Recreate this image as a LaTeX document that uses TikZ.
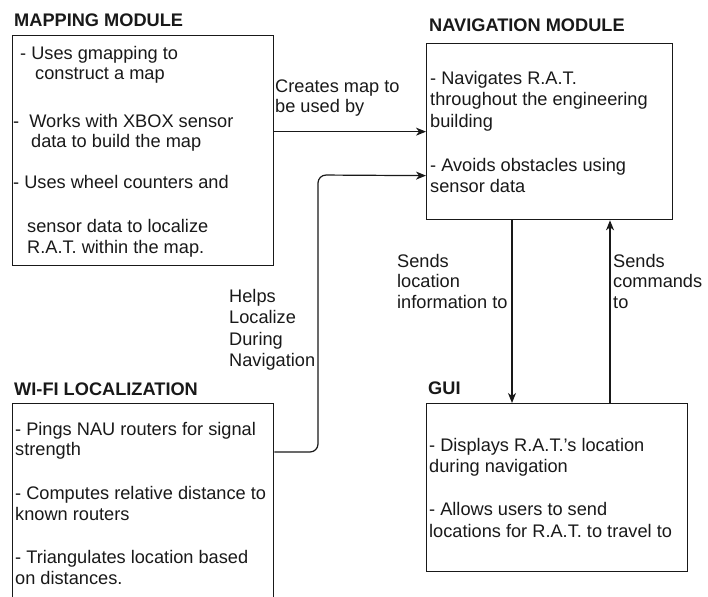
\documentclass[tikz,border=0pt]{standalone}
\usepackage{fontspec}
\setmainfont{Liberation Sans}
\usetikzlibrary{arrows.meta}
\begin{document}
\begin{tikzpicture}[x=1pt,y=-1pt,
  box/.style={draw=black!90, line width=1.3pt, inner sep=0pt, anchor=north west},
  txt/.style={anchor=base west, inner sep=0pt, text=black!90,
    font=\fontsize{18.2}{21}\selectfont},
  ttl/.style={txt, font=\fontsize{18.2}{21}\selectfont\bfseries},
  link/.style={draw=black!90, line width=1.2pt, rounded corners=8pt,
    -{Stealth[length=10pt,width=8pt,inset=3pt]}}]
\clip (0,0) rectangle (708,596);
\fill[white] (0,0) rectangle (708,596);

% module boxes
\node[box, minimum width=261pt, minimum height=230pt] (map) at (12,35) {};
\node[box, minimum width=246pt, minimum height=176pt] (nav) at (426,43) {};
\node[box, minimum width=261pt, minimum height=240pt] (wifi) at (12,403) {};
\node[box, minimum width=261pt, minimum height=168pt] (gui) at (426,403) {};

% titles
\node[ttl] (mapT) at (14,27) {MAPPING MODULE};
\node[ttl] (navT) at (429,32) {NAVIGATION MODULE};
\node[ttl] (wifiT) at (14,395) {WI-FI LOCALIZATION};
\node[ttl] (guiT) at (428,394) {GUI};

% mapping module text
\node[txt] (m1) at (20,60) {- Uses gmapping to};
\node[txt] (m2) at (35,80) {construct a map};
\node[txt] (m3) at (13,128) {-\ \ Works with XBOX sensor};
\node[txt] (m4) at (31,147) {data to build the map};
\node[txt] (m5) at (13,188) {- Uses wheel counters and};
\node[txt] (m6) at (27,232) {sensor data to localize};
\node[txt] (m7) at (27,253) {R.A.T. within the map.};

% navigation module text
\node[txt] (n1) at (430,85) {- Navigates R.A.T.};
\node[txt] (n2) at (430,106) {throughout the engineering};
\node[txt] (n3) at (430,128) {building};
\node[txt] (n4) at (430,171) {- Avoids obstacles using};
\node[txt] (n5) at (430,192) {sensor data};

% wi-fi localization text
\node[txt] (w1) at (15,435) {- Pings NAU routers for signal};
\node[txt] (w2) at (15,455) {strength};
\node[txt] (w3) at (15,499) {- Computes relative distance to};
\node[txt] (w4) at (15,520) {known routers};
\node[txt] (w5) at (15,563) {- Triangulates location based};
\node[txt] (w6) at (15,584) {on distances.};

% gui text
\node[txt] (g1) at (429,451) {- Displays R.A.T.'s location};
\node[txt] (g2) at (429,472) {during navigation};
\node[txt] (g3) at (429,515) {- Allows users to send};
\node[txt] (g4) at (429,537) {locations for R.A.T. to travel to};

% connector labels
\node[txt] (l1) at (275,93) {Creates map to};
\node[txt] (l2) at (275,113) {be used by};
\node[txt] (h1) at (229,302) {Helps};
\node[txt] (h2) at (229,323) {Localize};
\node[txt] (h3) at (229,345) {During};
\node[txt] (h4) at (229,366) {Navigation};
\node[txt] (s1) at (397,267) {Sends};
\node[txt] (s2) at (397,287) {location};
\node[txt] (s3) at (397,308) {information to};
\node[txt] (c1) at (613,267) {Sends};
\node[txt] (c2) at (613,287) {commands};
\node[txt] (c3) at (613,308) {to};

% connectors (shifts are in page units: negative y moves down)
\coordinate (wOut) at ([yshift=-49pt]wifi.north east);
\coordinate (navIn) at ([yshift=-44pt]nav.west);
\coordinate (down) at ([xshift=86pt]nav.south west);
\coordinate (up) at ([xshift=184pt]nav.south west);

\draw[link] (map.east |- nav.west) -- (nav.west);
\draw[link] (wOut) -- (318,452) -- (318,175) -- (navIn);
\draw[link] (down) -- (down |- gui.north);
\draw[link] (up |- gui.north) -- (up);
\end{tikzpicture}
\end{document}
